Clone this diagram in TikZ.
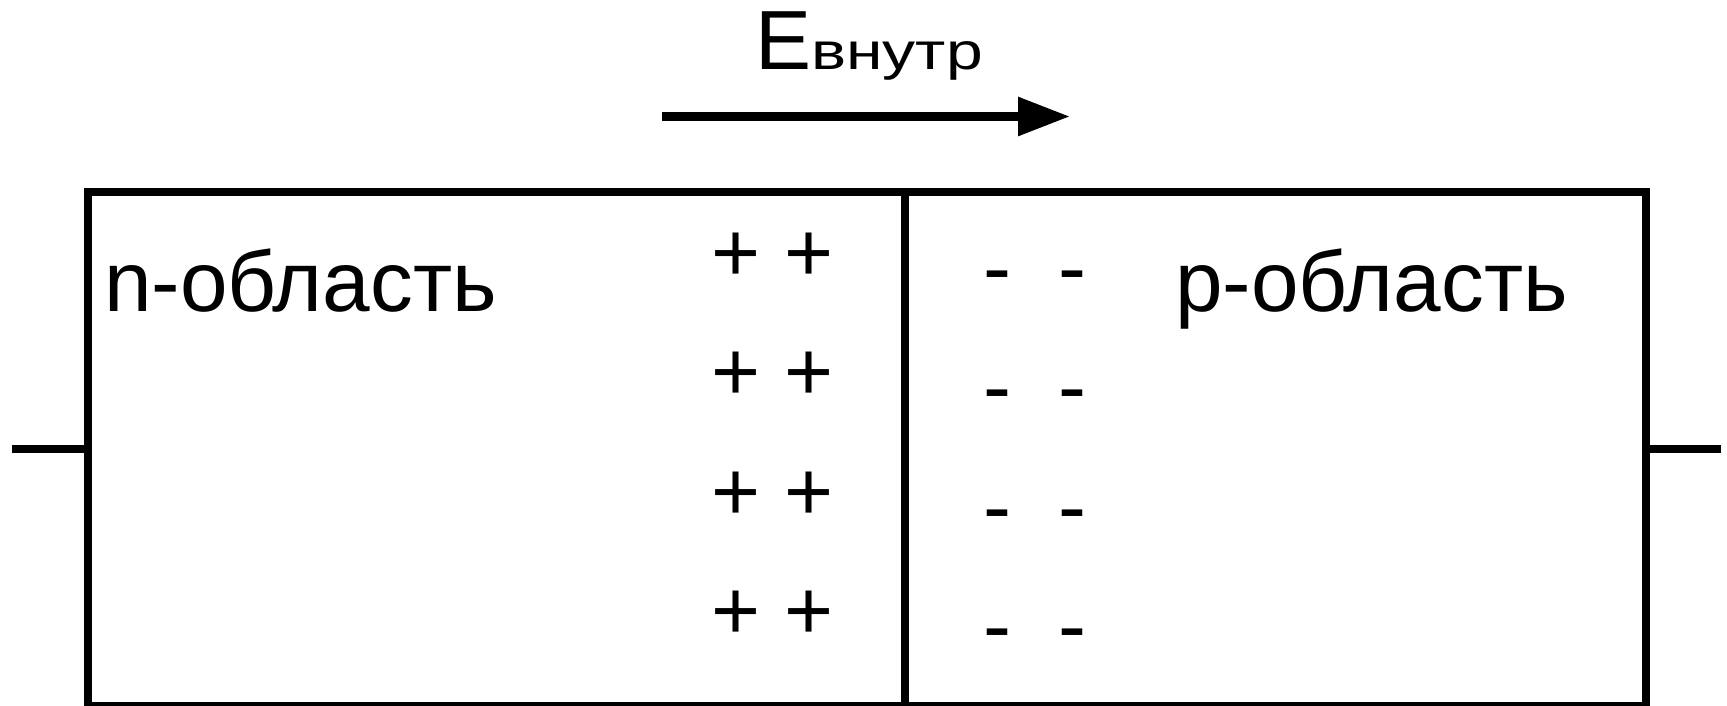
\documentclass[tikz,border=0pt]{standalone}
\usepackage{fontspec}
\usepackage{graphicx}
\setmainfont{Liberation Sans}
\usetikzlibrary{arrows.meta}
\tikzset{
  region/.style={draw=black, line width=8pt, rectangle, inner sep=0pt, outer sep=0pt, minimum height=514pt},
  wire/.style={draw=black, line width=8pt},
  efield/.style={draw=black, line width=9pt, -{Triangle[length=52pt,width=37pt]}},
  lbl/.style={inner sep=0pt, font=\fontsize{85.5}{100}\selectfont},
  chg/.style={inner sep=0pt, anchor=base, font=\fontsize{84}{100}\selectfont},
}
\begin{document}
\begin{tikzpicture}[x=1pt, y=-1pt]
\useasboundingbox (0,0) rectangle (1727,706);
% regions
\node[region, minimum width=817pt] (nreg) at (496.5,448.5) {};
\node[region, minimum width=740.5pt] (preg) at (1275.25,448.5) {};
% terminals
\coordinate (lt) at (12,448.5);
\coordinate (rt) at (1721,448.5);
\draw[wire] (lt) -- (nreg.west);
\draw[wire] (preg.east) -- (rt);
% field arrow
\coordinate (astart) at (662,116.5);
\coordinate (aend) at (1070,116.5);
\draw[efield] (astart) -- (aend);
\node[inner sep=0pt, anchor=base west] (elab) at (755,70) {\fontsize{84}{100}\selectfont E\fontsize{52}{60}\selectfont\scalebox{1.27}[1]{внутр}};
% region labels
\node[lbl, anchor=base west] (ntext) at (104,311.7) {n-область};
\node[lbl, anchor=base west] (ptext) at (1175,311) {p-область};
% charges
\node[chg] (pl1) at (772.5,281.2) {+ +};
\node[chg] (pl2) at (772.5,400.7) {+ +};
\node[chg] (pl3) at (772.5,520.0) {+ +};
\node[chg] (pl4) at (772.5,639.4) {+ +};
\node[chg] (mn1) at (1035,296.4) {-~~-};
\node[chg] (mn2) at (1035,415.9) {-~~-};
\node[chg] (mn3) at (1035,535.4) {-~~-};
\node[chg] (mn4) at (1035,654.4) {-~~-};
\end{tikzpicture}
\end{document}
